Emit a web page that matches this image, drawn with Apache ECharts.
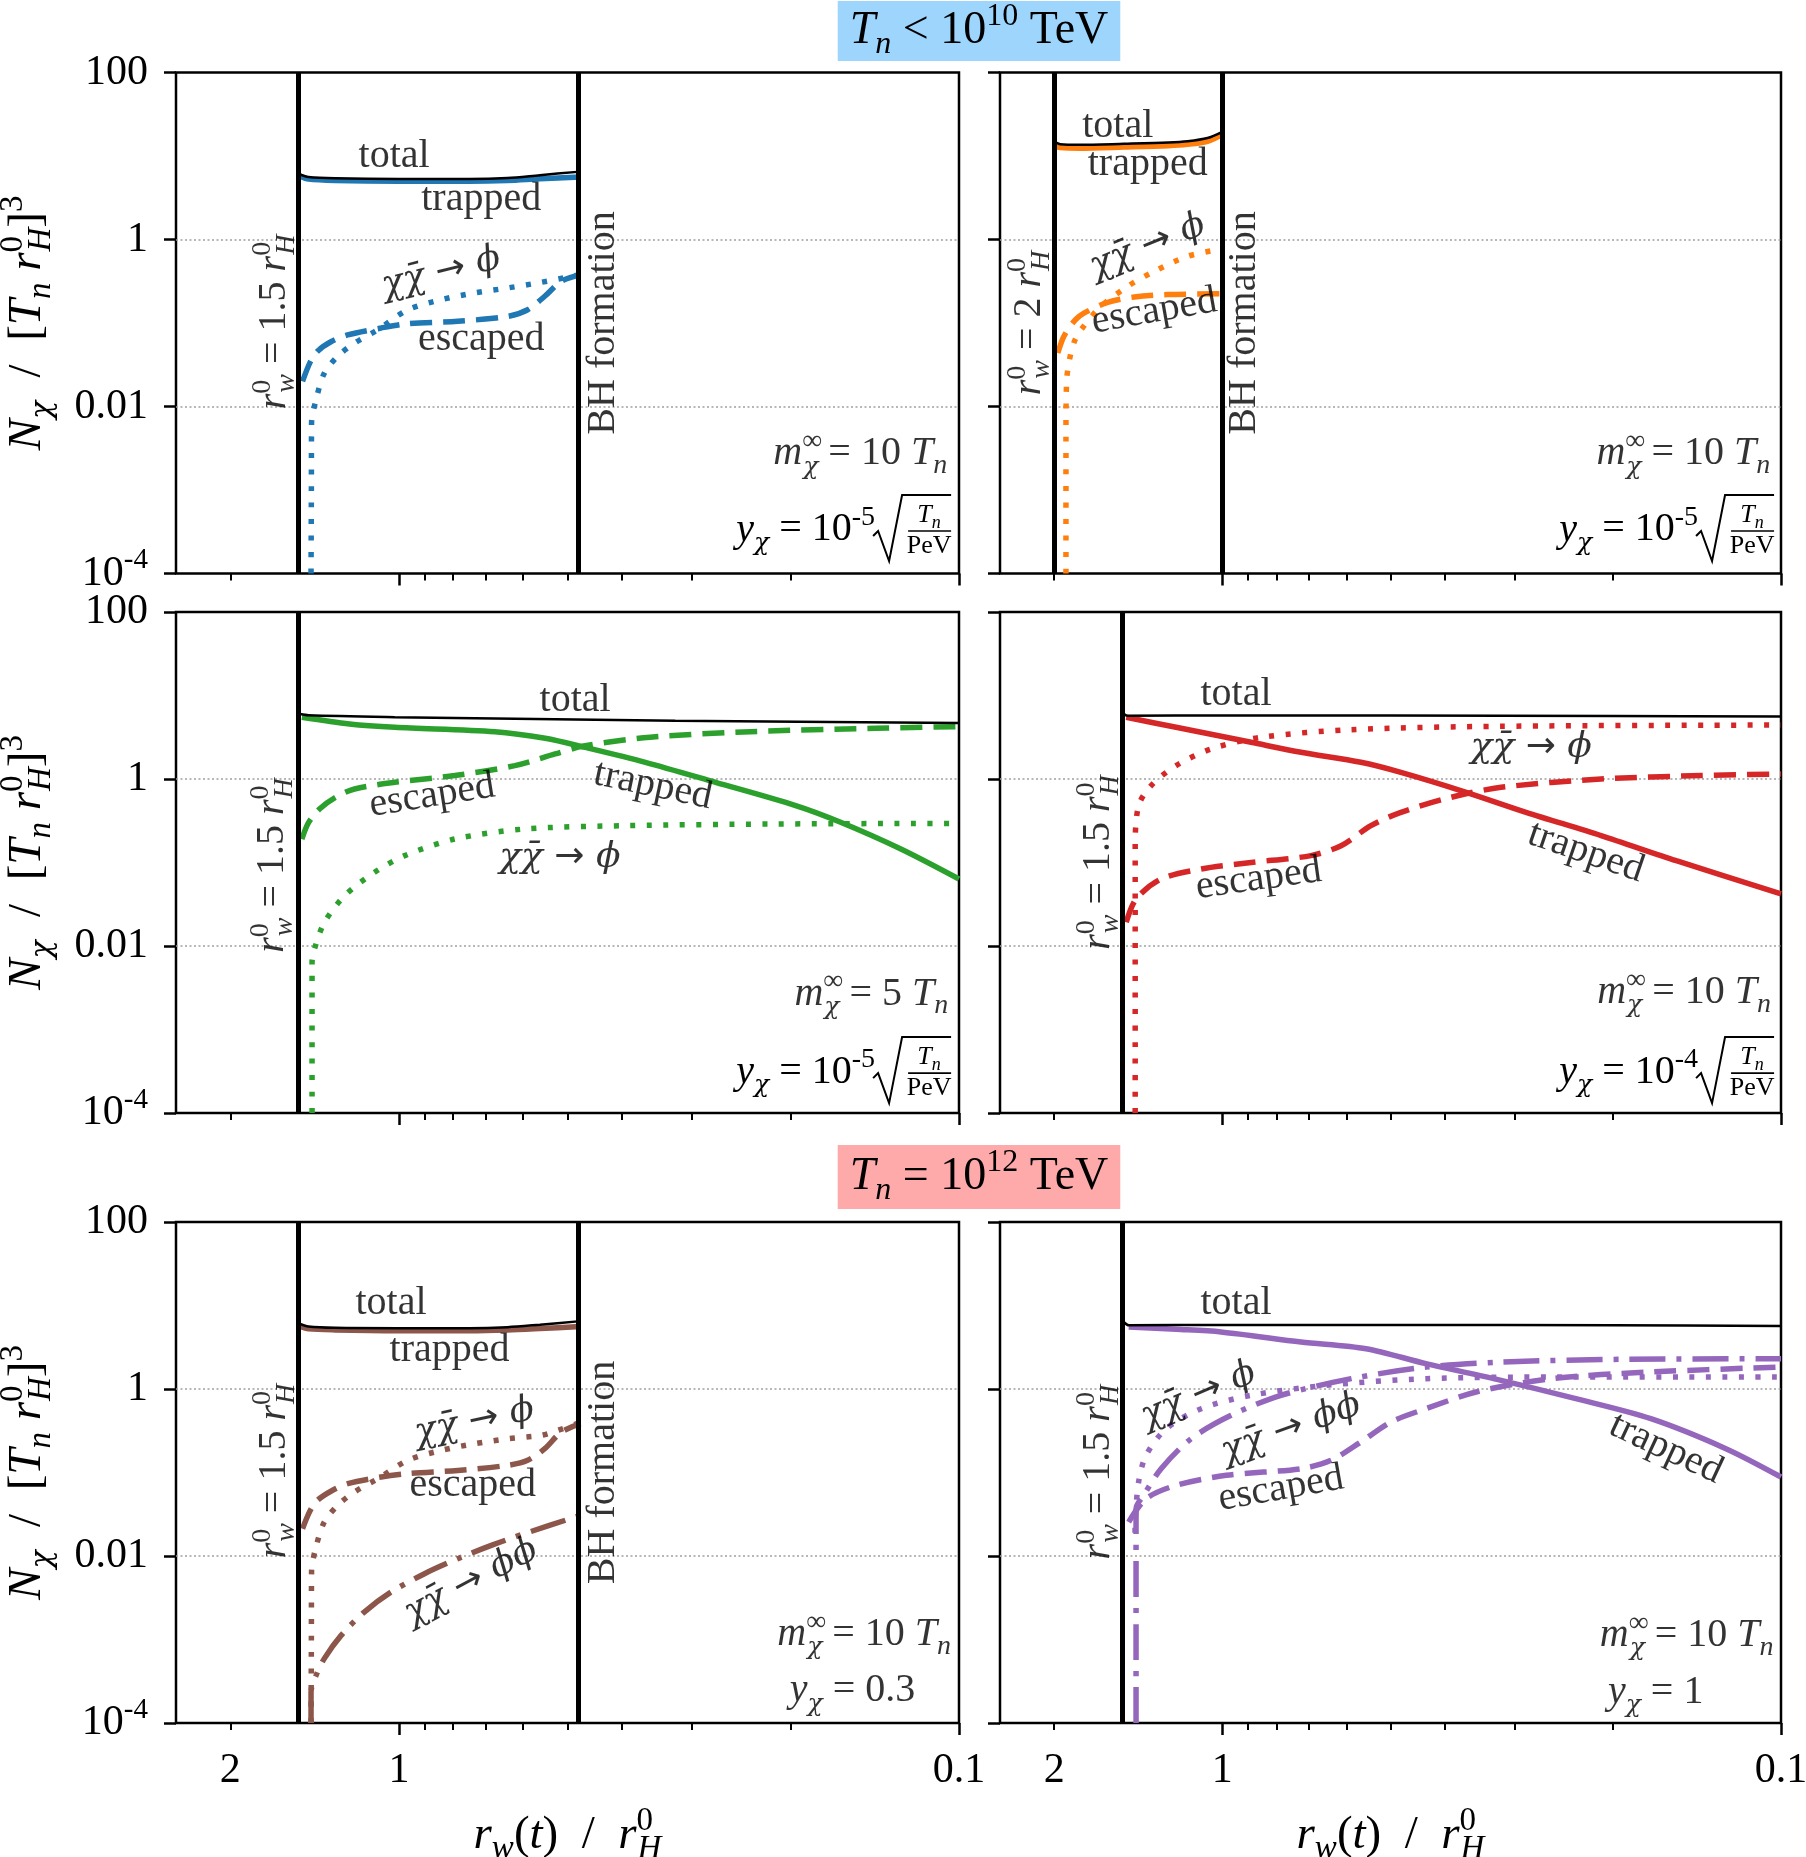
<!DOCTYPE html>
<html>
<head>
<meta charset="utf-8">
<script src="https://cdn.jsdelivr.net/npm/echarts@6/dist/echarts.min.js"></script>
<style>
  html, body { margin: 0; padding: 0; background: #fff; }
  #chart { width: 1806px; height: 1857px; }
</style>
</head>
<body>
<div id="chart"></div>
<script>
// ---- values: [r_w / r_H0, N_chi] ----
// top left (blue)
const aTotal   = [[1.5,6.0],[1.45,5.6],[1.3,5.4],[1.0,5.3],[0.75,5.3],[0.64,5.45],[0.56,5.9],[0.474,6.5]];
const aTrapped = [[1.5,5.7],[1.45,5.3],[1.3,5.1],[1.0,5.0],[0.75,5.0],[0.64,5.1],[0.56,5.35],[0.474,5.6]];
const aEscaped = [[1.486,0.020],[1.44,0.034],[1.397,0.046],[1.32,0.060],[1.234,0.072],[1.076,0.087],[0.965,0.098],[0.785,0.105],[0.639,0.12],[0.589,0.144],[0.549,0.209],[0.513,0.316],[0.474,0.38]];
const aPhi     = [[1.435,1e-4],[1.433,1e-3],[1.432,0.0063],[1.406,0.012],[1.359,0.025],[1.286,0.040],[1.2,0.0575],[1.091,0.083],[0.964,0.144],[0.84,0.19],[0.733,0.229],[0.639,0.263],[0.557,0.307],[0.474,0.38]];
// top right (orange)
const bTotal   = [[2.0,15.0],[1.95,13.8],[1.8,13.6],[1.5,14.0],[1.25,14.5],[1.154,15.0],[1.063,16.4],[1.0,19.5]];
const bTrapped = [[2.0,13.2],[1.95,12.6],[1.8,12.4],[1.5,12.8],[1.25,13.3],[1.154,13.8],[1.063,15.0],[1.0,18.0]];
const bEscaped = [[1.97,0.0437],[1.93,0.065],[1.891,0.083],[1.83,0.11],[1.766,0.132],[1.604,0.177],[1.437,0.205],[1.253,0.219],[1.0,0.224]];
const bPhi     = [[1.905,1e-4],[1.905,0.004],[1.9,0.02],[1.878,0.036],[1.84,0.06],[1.79,0.083],[1.649,0.158],[1.477,0.275],[1.324,0.416],[1.154,0.63],[1.0,0.77]];
// middle left (green)
const cTotal   = [[1.5,6.0],[1.45,5.8],[1.017,5.5],[0.732,5.33],[0.321,5.0],[0.1,4.69]];
const cTrapped = [[1.49,5.48],[1.225,4.56],[1.017,4.16],[0.674,3.69],[0.548,3.07],[0.465,2.39],[0.363,1.585],[0.272,0.912],[0.1957,0.48],[0.1627,0.303],[0.127,0.145],[0.1,0.0634]];
const cEscaped = [[1.49,0.191],[1.45,0.3],[1.386,0.437],[1.3,0.6],[1.2,0.759],[1.017,0.912],[0.795,1.1],[0.621,1.445],[0.526,1.995],[0.465,2.51],[0.356,3.16],[0.2356,3.69],[0.1408,4.05],[0.1,4.24]];
const cPhi     = [[1.429,1e-4],[1.429,0.0064],[1.415,0.0092],[1.358,0.0192],[1.25,0.04],[1.105,0.0764],[0.976,0.121],[0.795,0.191],[0.596,0.252],[0.394,0.276],[0.2127,0.289],[0.1,0.294]];
// middle right (red)
const dTotal   = [[1.5,6.0],[1.48,5.74],[1.0,5.75],[0.5,5.75],[0.2,5.7],[0.1,5.6]];
const dTrapped = [[1.486,5.48],[1.21,4.16],[0.888,2.75],[0.723,2.09],[0.565,1.585],[0.479,1.2],[0.366,0.693],[0.286,0.399],[0.21,0.21],[0.154,0.105],[0.1,0.042]];
const dPhi     = [[1.432,1e-4],[1.432,0.01],[1.432,0.159],[1.412,0.48],[1.341,0.834],[1.21,1.445],[1.047,2.29],[0.852,3.16],[0.588,3.9],[0.317,4.28],[0.1,4.43]];
const dEscaped = [[1.486,0.0192],[1.427,0.0366],[1.287,0.0634],[1.091,0.0836],[0.888,0.1],[0.694,0.121],[0.613,0.159],[0.542,0.276],[0.479,0.399],[0.3895,0.604],[0.317,0.795],[0.21,1.0],[0.139,1.1],[0.1,1.15]];
// bottom left (brown)
const eTotal   = [[1.5,6.0],[1.45,5.6],[1.3,5.4],[1.0,5.35],[0.75,5.35],[0.64,5.5],[0.56,5.9],[0.474,6.5]];
const eTrapped = [[1.5,5.6],[1.45,5.25],[1.3,5.1],[1.0,5.0],[0.75,5.0],[0.64,5.1],[0.56,5.3],[0.474,5.6]];
const eEscaped = [[1.486,0.0212],[1.44,0.035],[1.397,0.0465],[1.32,0.06],[1.234,0.0735],[1.076,0.0883],[0.965,0.0968],[0.785,0.106],[0.639,0.122],[0.589,0.14],[0.549,0.193],[0.513,0.305],[0.474,0.384]];
const ePhi     = [[1.435,1e-4],[1.433,1e-3],[1.432,0.00645],[1.406,0.0128],[1.359,0.0255],[1.286,0.0405],[1.2,0.0584],[1.091,0.0843],[0.964,0.14],[0.84,0.184],[0.733,0.221],[0.639,0.254],[0.557,0.279],[0.52,0.32],[0.474,0.40]];
const ePhiPhi  = [[1.435,1e-4],[1.435,2.35e-4],[1.406,3.7e-4],[1.359,5.9e-4],[1.268,0.00112],[1.153,0.00213],[1.033,0.0037],[0.9,0.00614],[0.785,0.00929],[0.684,0.0134],[0.597,0.0185],[0.474,0.0307]];
// bottom right (purple)
const fTotal   = [[1.5,6.3],[1.47,5.8],[1.0,5.85],[0.5,5.85],[0.2,5.8],[0.1,5.7]];
const fTrapped = [[1.471,5.53],[1.21,5.19],[1.005,4.82],[0.723,3.66],[0.553,3.04],[0.432,2.01],[0.317,1.27],[0.233,0.766],[0.171,0.441],[0.1255,0.193],[0.1,0.0883]];
const fPhi     = [[1.433,0.019],[1.432,0.0255],[1.412,0.077],[1.369,0.161],[1.26,0.335],[1.091,0.581],[0.888,0.84],[0.652,1.107],[0.432,1.33],[0.258,1.39],[0.1,1.39]];
const fPhiPhi  = [[1.427,1e-4],[1.427,0.0369],[1.383,0.0533],[1.287,0.111],[1.137,0.254],[0.9645,0.484],[0.785,0.84],[0.588,1.33],[0.432,1.83],[0.317,2.1],[0.1894,2.27],[0.1,2.3]];
const fEscaped = [[1.471,0.0255],[1.369,0.0486],[1.21,0.0702],[0.984,0.0925],[0.723,0.111],[0.639,0.14],[0.565,0.232],[0.499,0.403],[0.432,0.581],[0.3514,0.92],[0.258,1.33],[0.171,1.6],[0.1,1.83]];

// ---- ticks ----
const xMajor = [1, 0.1];
const xMinor = [2, 0.9, 0.8, 0.7, 0.6, 0.5, 0.4, 0.3, 0.2];
const xLabelValues = [2, 1, 0.1];
const xLabelText = ['2', '1', '0.1'];
const yTickValues = [1e-4, 0.01, 1, 100];
const yTickText = ['{r|10}{sp|-4}', '{r|0.01}', '{r|1}', '{r|100}'];

// ---- texts ----
const T_TOTAL = '{r|total}', T_TRAPPED = '{r|trapped}', T_ESCAPED = '{r|escaped}';
const T_PHI = '{g|χχ\u0304}{ar| → }{g|ϕ}';
const T_PHIPHI = '{g|χχ\u0304}{ar| → }{g|ϕϕ}';
const T_BH = '{r|BH formation}';
const T_WALL15 = '{i|r}{sz|0}{sb|w}{r| = 1.5 }{i|r}{sz|0}{sb|H}';
const T_WALL2 = '{i|r}{sz|0}{sb|w}{r| = 2 }{i|r}{sz|0}{sb|H}';
const T_M10 = '{i|m}{sz|∞}{sg|χ}{r| = 10 }{i|T}{sb|n}';
const T_M5 = '{i|m}{sz|∞}{sg|χ}{r| = 5 }{i|T}{sb|n}';
const T_Y03 = '{i|y}{sg|χ}{r| = 0.3}';
const T_Y1 = '{i|y}{sg|χ}{r| = 1}';
const X_NAME = '{i|r}{sb|w}{r|(}{i|t}{r|)  /  }{i|r}{sz|0}{sb|H}';
const Y_NAME = '{i|N}{sg|χ}{r|  /  [}{i|T}{sb|n}{r| }{i|r}{sz|0}{sb|H}{r|]}{sp|3}';

// annotation anchors [r, N, text, rotation, align]
const aTexts = [[1.02,10.0,T_TOTAL,0],[0.713,3.0,T_TRAPPED,0],[0.84,0.40,T_PHI,14],[0.713,0.063,T_ESCAPED,0],
  [1.669,0.103,T_WALL15,90],[0.431,0.1,T_BH,90],[0.105,0.00273,T_M10,0,'right']];
const bTexts = [[1.539,22.7,T_TOTAL,0],[1.36,7.87,T_TRAPPED,0],[1.36,0.83,T_PHI,22],[1.324,0.138,T_ESCAPED,10],
  [2.214,0.1,T_WALL2,90],[0.913,0.1,T_BH,90],[0.1045,0.00273,T_M10,0,'right']];
const cTexts = [[0.4845,8.7,T_TOTAL,0],[0.872,0.632,T_ESCAPED,9],[0.352,0.834,T_TRAPPED,-12],[0.516,0.115,T_PHI,0],
  [1.679,0.092,T_WALL15,90],[0.1045,0.00266,T_M5,0,'right']];
const dTexts = [[0.945,10.4,T_TOTAL,0],[0.28,2.4,T_PHI,0],[0.861,0.0634,T_ESCAPED,8],[0.2234,0.1325,T_TRAPPED,-19],
  [1.665,0.1,T_WALL15,90],[0.1042,0.00279,T_M10,0,'right']];
const eTexts = [[1.033,10.5,T_TOTAL,0],[0.812,2.9,T_TRAPPED,0],[0.733,0.403,T_PHI,12],[0.738,0.0703,T_ESCAPED,0],
  [0.743,0.00488,T_PHIPHI,28],[1.669,0.104,T_WALL15,90],[0.431,0.1,T_BH,90],
  [0.1033,0.00115,T_M10,0,'right'],[0.1197,2.42e-4,T_Y03,0,'right']];
const fTexts = [[0.945,10.5,T_TOTAL,0],[1.103,0.84,T_PHI,23],[0.753,0.335,T_PHIPHI,20],[0.785,0.064,T_ESCAPED,10],
  [0.1607,0.193,T_TRAPPED,-25],[1.665,0.101,T_WALL15,90],
  [0.1031,0.00112,T_M10,0,'right'],[0.1377,2.35e-4,T_Y1,0,'right']];
// y_chi = 10^e sqrt(T_n/PeV) notes: [panel, exponent, r, N] (right edge, middle)
const sqrtNotes = [[0,'-5',0.1033,3.32e-4],[1,'-5',0.1029,3.32e-4],[2,'-5',0.1033,3.09e-4],[3,'-4',0.1029,3.09e-4]];

const LOG = Math.log10;
const pts = arr => arr.map(([r, n]) => [LOG(r), LOG(n)]);
const F = '"Liberation Serif", "DejaVu Serif", serif';
const FG = '"DejaVu Serif", serif';
const FA = '"DejaVu Sans", sans-serif';
const X_MAX = LOG(2.5);

function mathRich(size) {
  const sm = Math.round(size * 0.7);
  const lh = Math.round(size * 1.3);
  const base = {fontFamily: F, color: '#000', align: 'left'};
  return {
    r: Object.assign({}, base, {fontSize: size, lineHeight: lh}),
    i: Object.assign({}, base, {fontSize: size, fontStyle: 'italic', lineHeight: lh}),
    g: Object.assign({}, base, {fontFamily: FG, fontSize: Math.round(size * 0.9), fontStyle: 'italic', lineHeight: lh}),
    ar: Object.assign({}, base, {fontFamily: FA, fontSize: Math.round(size * 0.9), lineHeight: lh}),
    sb: Object.assign({}, base, {fontSize: sm, fontStyle: 'italic', verticalAlign: 'bottom'}),
    sg: Object.assign({}, base, {fontFamily: FG, fontSize: Math.round(sm * 0.9), fontStyle: 'italic', verticalAlign: 'bottom'}),
    sp: Object.assign({}, base, {fontSize: sm, verticalAlign: 'top'}),
    sz: Object.assign({}, base, {fontSize: sm, verticalAlign: 'top', width: 1})
  };
}
const R26 = mathRich(26), R40 = mathRich(40), R42 = mathRich(42), R47 = mathRich(47), R46 = mathRich(46);

function labelFor(v, values, texts) {
  let k = 0;
  values.forEach((val, j) => { if (Math.abs(LOG(val) - v) < Math.abs(LOG(values[k]) - v)) k = j; });
  return texts[k];
}

const DASH = {solid: 'solid', dashed: [22, 11], dotted: [5, 11.5], dashdot: [36, 11, 5, 11]};
const GRID_LEFT = [176, 1000], GRID_W = [783, 781];
const GRID_TOP = [72.5, 612, 1222], GRID_H = 501;
const GRID_LINE = {color: '#a0a0a0', width: 1.6, type: [2, 2.5]};

const panels = [
  {row: 0, col: 0, color: '#1f77b4', walls: [1.5, 0.474], total: aTotal, texts: aTexts,
   curves: [['solid', aTrapped], ['dashed', aEscaped], ['dotted', aPhi]]},
  {row: 0, col: 1, color: '#ff7f0e', walls: [2.0, 1.0], total: bTotal, texts: bTexts,
   curves: [['solid', bTrapped], ['dashed', bEscaped], ['dotted', bPhi]]},
  {row: 1, col: 0, color: '#2ca02c', walls: [1.5], total: cTotal, texts: cTexts,
   curves: [['solid', cTrapped], ['dashed', cEscaped], ['dotted', cPhi]]},
  {row: 1, col: 1, color: '#d62728', walls: [1.5], total: dTotal, texts: dTexts,
   curves: [['solid', dTrapped], ['dashed', dEscaped], ['dotted', dPhi]]},
  {row: 2, col: 0, color: '#8c564b', walls: [1.5, 0.474], total: eTotal, texts: eTexts,
   curves: [['solid', eTrapped], ['dashed', eEscaped], ['dotted', ePhi], ['dashdot', ePhiPhi]]},
  {row: 2, col: 1, color: '#9467bd', walls: [1.5], total: fTotal, texts: fTexts,
   curves: [['solid', fTrapped], ['dashed', fEscaped], ['dotted', fPhi], ['dashdot', fPhiPhi]]}
];

const option = {animation: false, backgroundColor: '#fff', grid: [], xAxis: [], yAxis: [], series: []};

panels.forEach((p, i) => {
  const bottom = p.row === 2, left = p.col === 0;
  option.grid.push({
    left: GRID_LEFT[p.col], top: GRID_TOP[p.row], width: GRID_W[p.col], height: GRID_H,
    show: true, borderColor: '#000', borderWidth: 2.5, backgroundColor: 'rgba(0,0,0,0)',
    containLabel: false, outerBoundsMode: 'none'
  });
  option.xAxis.push({
    type: 'value', gridIndex: i, min: -1, max: X_MAX, inverse: true, position: 'bottom',
    axisLine: {show: false, onZero: false},
    axisTick: {show: true, customValues: xMajor.map(LOG), length: 12, lineStyle: {color: '#000', width: 2.5}},
    axisLabel: {show: bottom, customValues: xLabelValues.map(LOG), margin: 20, rich: R42,
      formatter: v => '{r|' + labelFor(v, xLabelValues, xLabelText) + '}'},
    splitLine: {show: true, showMinLine: false, showMaxLine: false, lineStyle: GRID_LINE},
    name: bottom ? X_NAME : '', nameLocation: 'middle', nameGap: 82, nameTextStyle: {rich: R47}
  });
  option.xAxis.push({
    type: 'value', gridIndex: i, min: -1, max: X_MAX, inverse: true, position: 'bottom',
    axisLine: {show: false, onZero: false},
    axisTick: {show: true, customValues: xMinor.map(LOG), length: 7, lineStyle: {color: '#000', width: 2}},
    axisLabel: {show: false}, splitLine: {show: false}
  });
  option.yAxis.push({
    type: 'value', gridIndex: i, min: -4, max: 2, position: 'left',
    axisLine: {show: false, onZero: false},
    axisTick: {show: true, customValues: yTickValues.map(LOG), length: 12, lineStyle: {color: '#000', width: 2.5}},
    axisLabel: {show: left, customValues: yTickValues.map(LOG), margin: 28, rich: R42,
      formatter: v => labelFor(v, yTickValues, yTickText)},
    splitLine: {show: true, showMinLine: false, showMaxLine: false, lineStyle: GRID_LINE},
    name: left ? Y_NAME : '', nameLocation: 'middle', nameGap: 118, nameRotate: 90, nameTextStyle: {rich: R47}
  });

  p.curves.forEach(([style, arr]) => option.series.push({
    type: 'line', xAxisIndex: 2 * i, yAxisIndex: i, data: pts(arr),
    symbol: 'none', smooth: 0.3, silent: true, z: 2,
    lineStyle: {color: p.color, width: 5.5, type: DASH[style], cap: 'butt'}
  }));
  option.series.push({
    type: 'line', xAxisIndex: 2 * i, yAxisIndex: i, data: pts(p.total),
    symbol: 'none', smooth: 0.3, silent: true, z: 3,
    lineStyle: {color: '#000', width: 2.5},
    markLine: {
      silent: true, symbol: ['none', 'none'], label: {show: false},
      lineStyle: {color: '#000', width: 5, type: 'solid'},
      data: p.walls.map(w => ({xAxis: LOG(w)}))
    }
  });
  option.series.push({
    type: 'scatter', xAxisIndex: 2 * i, yAxisIndex: i, symbolSize: 0, silent: true, z: 6,
    itemStyle: {color: 'rgba(0,0,0,0)'},
    label: {show: true, position: 'inside', color: '#000', fontFamily: F, fontSize: 40, rich: R40},
    data: p.texts.map(([r, n, txt, rot, al]) => ({
      value: [LOG(r), LOG(n)],
      label: {formatter: txt, rotate: rot, align: al || 'center'}
    }))
  });
});

const chart = echarts.init(document.getElementById('chart'));
chart.setOption(option);

// header boxes and the sqrt annotations
const graphics = [
  {type: 'text', x: 979, y: 31, silent: true, style: {
    text: '{i|T}{sb|n}{r| < 10}{sp|10}{r| TeV}', rich: R46, align: 'center', verticalAlign: 'middle',
    backgroundColor: '#9dd5fd', padding: [0, 12, 0, 12]}},
  {type: 'text', x: 979, y: 1177, silent: true, style: {
    text: '{i|T}{sb|n}{r| = 10}{sp|12}{r| TeV}', rich: R46, align: 'center', verticalAlign: 'middle',
    backgroundColor: '#ffaaaa', padding: [2, 12, 2, 12]}}
];
sqrtNotes.forEach(([k, e, r, n]) => {
  const [px, py] = chart.convertToPixel({xAxisIndex: 2 * k, yAxisIndex: k}, [LOG(r), LOG(n)]);
  graphics.push({type: 'group', x: px, y: py, silent: true, children: [
    {type: 'text', x: -76, y: 0, style: {text: '{i|y}{sg|χ}{r| = 10}{sp|' + e + '}', rich: R40,
      align: 'right', verticalAlign: 'middle'}},
    {type: 'polyline', shape: {points: [[-78, 6], [-73, 1], [-62, 31], [-49, -35], [0, -35]]},
      style: {stroke: '#000', lineWidth: 2, fill: null}},
    {type: 'text', x: -22, y: -15, style: {text: '{i|T}{sb|n}', rich: R26, align: 'center', verticalAlign: 'middle'}},
    {type: 'line', shape: {x1: -43, y1: 1, x2: 0, y2: 1}, style: {stroke: '#000', lineWidth: 1.6}},
    {type: 'text', x: -22, y: 16, style: {text: '{r|PeV}', rich: R26, align: 'center', verticalAlign: 'middle'}}
  ]});
});
chart.setOption({graphic: graphics});
</script>
</body>
</html>
